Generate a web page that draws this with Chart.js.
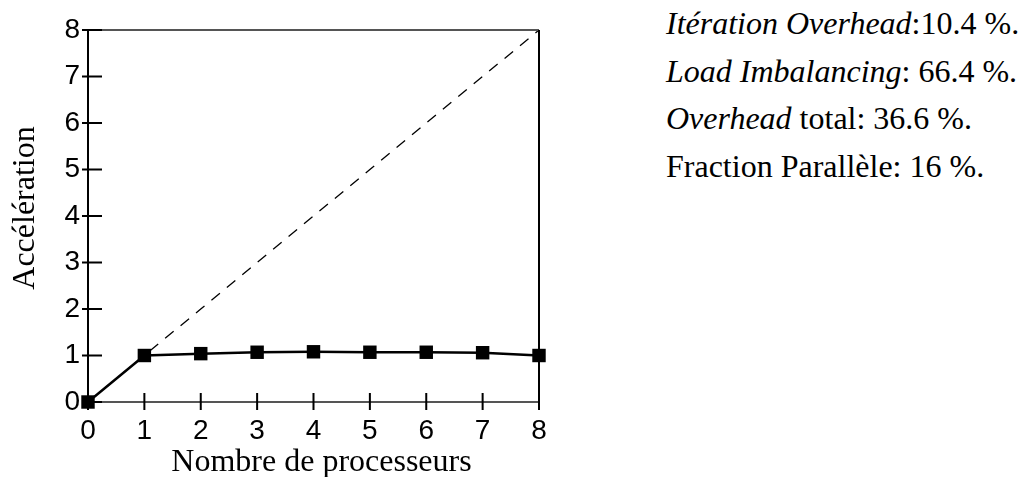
<!DOCTYPE html>
<html>
<head>
<meta charset="utf-8">
<script src="https://cdn.jsdelivr.net/npm/chart.js@4"></script>
<style>
  html, body { margin: 0; padding: 0; background: #fff; }
  body { width: 1022px; height: 477px; position: relative; overflow: hidden; }
  #wrap { position: absolute; left: 0; top: 0; width: 560px; height: 477px; }
  #notes { position: absolute; left: 666px; top: 0px; font-family: 'Liberation Serif', 'Times New Roman', serif;
           font-size: 32px; line-height: 47.5px; color: #000; white-space: nowrap; }
</style>
</head>
<body>
<div id="wrap"><canvas id="speedChart" width="560" height="477"></canvas></div>
<div id="notes">
  <div><i>Itération Overhead</i>:10.4 %.</div>
  <div><i>Load Imbalancing</i>: 66.4 %.</div>
  <div><i>Overhead</i> total: 36.6 %.</div>
  <div>Fraction Parallèle: 16 %.</div>
</div>
<script>
// données
const processeurs = [0, 1, 2, 3, 4, 5, 6, 7, 8];
const acceleration = [0, 1.0, 1.04, 1.07, 1.08, 1.07, 1.07, 1.06, 1.0];
const ideale = [0, 1, 2, 3, 4, 5, 6, 7, 8];
const yTicks = [0, 1, 2, 3, 4, 5, 6, 7, 8];

// cadre + petites graduations qui traversent les axes
const frameTicks = {
    id: 'frameTicks',
    afterDatasetsDraw(chart) {
        const { ctx, chartArea: a, scales: { x, y } } = chart;
        ctx.save();
        ctx.lineCap = 'butt';
        // haut et bas (gris)
        ctx.strokeStyle = '#555';
        ctx.lineWidth = 2;
        ctx.beginPath();
        ctx.moveTo(a.left, a.top); ctx.lineTo(a.right, a.top);
        ctx.moveTo(a.left, a.bottom); ctx.lineTo(a.right, a.bottom);
        ctx.stroke();
        // gauche et droite (noir)
        ctx.strokeStyle = '#000';
        ctx.beginPath();
        ctx.moveTo(a.left, a.top); ctx.lineTo(a.left, a.bottom);
        ctx.moveTo(a.right, a.top); ctx.lineTo(a.right, a.bottom);
        ctx.stroke();
        // graduations
        ctx.lineWidth = 2;
        ctx.beginPath();
        processeurs.forEach(v => {
            const px = x.getPixelForValue(v);
            ctx.moveTo(px, a.bottom - 9); ctx.lineTo(px, a.bottom + 8);
        });
        yTicks.forEach(v => {
            const py = y.getPixelForValue(v);
            ctx.moveTo(a.left - 6, py); ctx.lineTo(a.left + 14, py);
        });
        ctx.stroke();
        ctx.restore();
    }
};

const ctx = document.getElementById('speedChart').getContext('2d');
new Chart(ctx, {
    type: 'line',
    data: {
        datasets: [
            {
                label: 'Accélération',
                data: processeurs.map((p, i) => ({ x: p, y: acceleration[i] })),
                borderColor: '#000',
                backgroundColor: '#000',
                borderWidth: 2.5,
                pointStyle: 'rect',
                pointRadius: 9.5,
                pointBorderWidth: 0,
                tension: 0,
                clip: false,
                order: 1
            },
            {
                label: 'Idéale',
                data: processeurs.map((p, i) => ({ x: p, y: ideale[i] })),
                borderColor: '#000',
                borderWidth: 1.3,
                borderDash: [11, 9],
                pointRadius: 0,
                tension: 0,
                clip: false,
                order: 2
            }
        ]
    },
    options: {
        responsive: false,
        animation: false,
        layout: { padding: { top: 30, right: 21, left: 0, bottom: 0 } },
        plugins: {
            legend: { display: false },
            tooltip: { enabled: false }
        },
        scales: {
            x: {
                type: 'linear',
                min: 0, max: 8,
                afterFit(scale) { scale.height = 75; },
                afterBuildTicks(scale) { scale.ticks = processeurs.map(v => ({ value: v })); },
                grid: { display: false, drawTicks: false },
                border: { display: false },
                ticks: {
                    color: '#000',
                    padding: 12,
                    font: { family: 'Liberation Sans', size: 28 }
                },
                title: {
                    display: true,
                    text: '  Nombre de processeurs',
                    color: '#000',
                    padding: { top: 0, bottom: 0 },
                    font: { family: 'Liberation Serif', size: 32, lineHeight: 0.9 }
                }
            },
            y: {
                type: 'linear',
                min: 0, max: 8,
                afterFit(scale) { scale.width = 88; },
                afterBuildTicks(scale) { scale.ticks = yTicks.map(v => ({ value: v })); },
                grid: { display: false, drawTicks: false },
                border: { display: false },
                ticks: {
                    color: '#000',
                    padding: 8,
                    font: { family: 'Liberation Sans', size: 28 }
                },
                title: {
                    display: true,
                    text: '  Accélération',
                    color: '#000',
                    padding: { top: 10, bottom: 0 },
                    font: { family: 'Liberation Serif', size: 32, lineHeight: 1 }
                }
            }
        }
    },
    plugins: [frameTicks]
});
</script>
</body>
</html>
